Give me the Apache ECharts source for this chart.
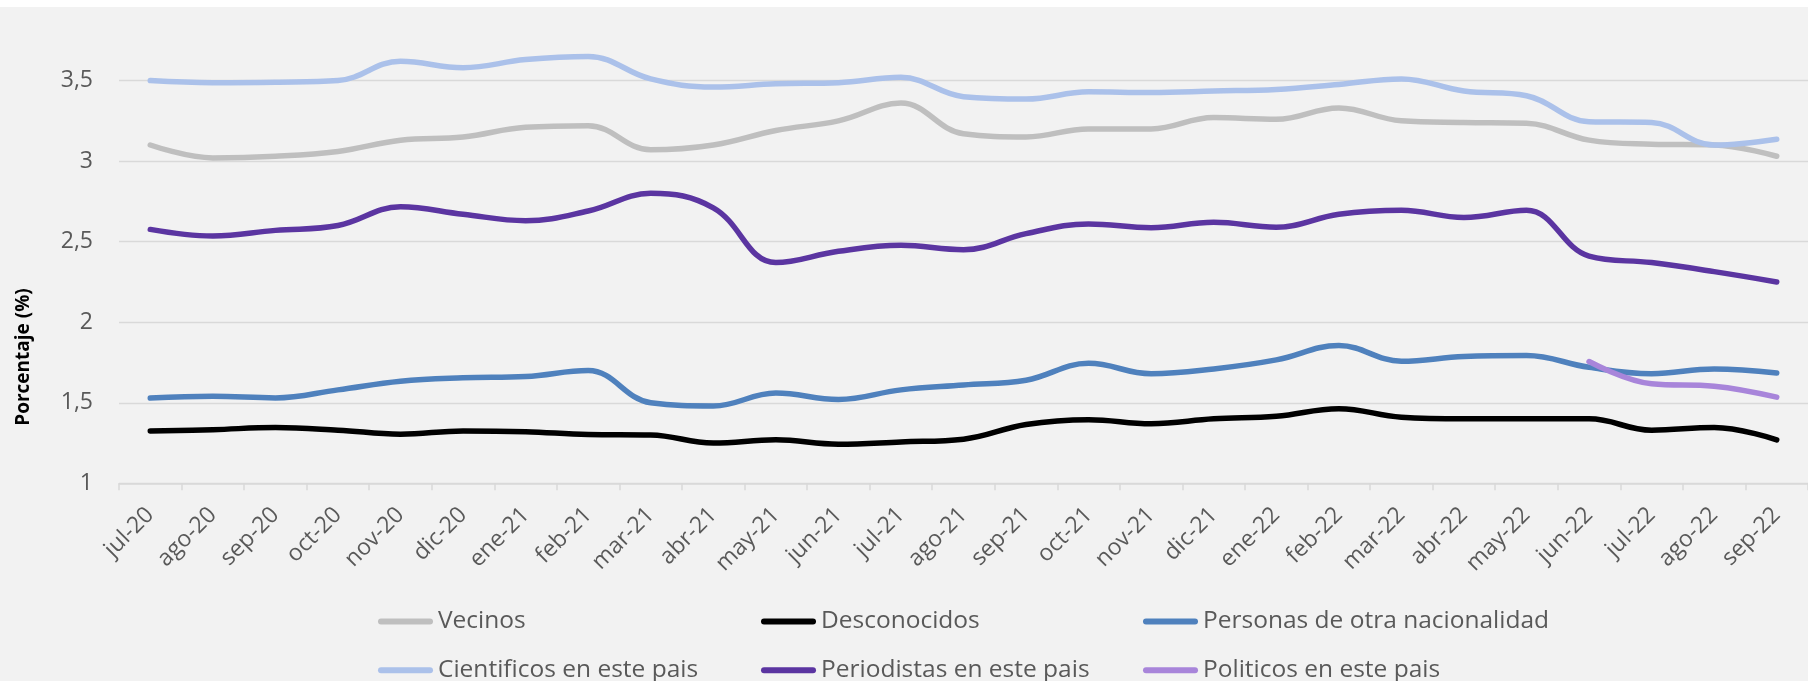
<!DOCTYPE html>
<html>
<head>
<meta charset="utf-8">
<script src="https://cdn.jsdelivr.net/npm/echarts@6/dist/echarts.min.js"></script>
<style>
html,body{margin:0;padding:0;background:#fff;}
#chart{width:1808px;height:681px;}
</style>
</head>
<body>
<div id="chart"></div>
<script>
// meses (eje x)
var months = ['jul-20','ago-20','sep-20','oct-20','nov-20','dic-20','ene-21','feb-21','mar-21','abr-21','may-21','jun-21','jul-21','ago-21','sep-21','oct-21','nov-21','dic-21','ene-22','feb-22','mar-22','abr-22','may-22','jun-22','jul-22','ago-22','sep-22'];
// series
var vecinos = [3.10,3.02,3.03,3.06,3.13,3.15,3.21,3.22,3.07,3.10,3.19,3.25,3.36,3.17,3.15,3.20,3.20,3.27,3.26,3.33,3.25,3.24,3.235,3.13,3.105,3.10,3.03];
var desconocidos = [1.325,1.333,1.346,1.33,1.305,1.325,1.32,1.303,1.30,1.25,1.27,1.243,1.257,1.274,1.365,1.395,1.37,1.40,1.416,1.463,1.41,1.40,1.40,1.40,1.33,1.346,1.27];
var personas = [1.529,1.54,1.53,1.58,1.634,1.655,1.663,1.70,1.50,1.48,1.56,1.52,1.58,1.61,1.64,1.745,1.68,1.71,1.766,1.855,1.758,1.787,1.793,1.72,1.68,1.71,1.684];
var cientificos = [3.50,3.487,3.49,3.50,3.62,3.58,3.63,3.65,3.51,3.46,3.48,3.487,3.52,3.40,3.385,3.43,3.426,3.435,3.445,3.476,3.51,3.435,3.406,3.245,3.24,3.10,3.136];
var periodistas = [2.576,2.535,2.57,2.60,2.716,2.67,2.63,2.69,2.80,2.71,2.37,2.44,2.477,2.45,2.55,2.61,2.586,2.62,2.59,2.67,2.695,2.65,2.695,2.41,2.37,2.314,2.25];
var politicos = [null,null,null,null,null,null,null,null,null,null,null,null,null,null,null,null,null,null,null,null,null,null,null,1.756,1.618,1.603,1.535];

var FONT = '"Open Sans", "Noto Sans", sans-serif';
var capsule = 'path://M3,0 H52 A3,3 0 0 1 52,6 H3 A3,3 0 0 1 3,0 Z';

function mkSeries(name, data, color){
	return {
		name: name, type: 'line', data: data, smooth: 0.4,
		showSymbol: false, symbol: 'none', connectNulls: false,
		lineStyle: {color: color, width: 5.5, cap: 'round', join: 'round'},
		itemStyle: {color: color}
	};
}
// una leyenda por columna (dos filas)
function mkLegend(left, names){
	return {
		orient: 'vertical', left: left, top: 609, height: 120, itemGap: 23.7, padding: 0,
		itemWidth: 55, itemHeight: 6, icon: capsule,
		textStyle: {color: '#595959', fontSize: 24.5, fontFamily: FONT, lineHeight: 24},
		data: names
	};
}

var chart = echarts.init(document.getElementById('chart'));
chart.setOption({
	backgroundColor: '#f2f2f2',
	animation: false,
	grid: {left: 119, right: -7.5, top: -2.2, bottom: 197.7, containLabel: false},
	legend: [
		mkLegend(378, ['Vecinos', 'Cientificos en este pais']),
		mkLegend(761, ['Desconocidos', 'Periodistas en este pais']),
		mkLegend(1143, ['Personas de otra nacionalidad', 'Politicos en este pais'])
	],
	xAxis: {
		type: 'category', data: months, boundaryGap: true,
		axisLine: {lineStyle: {color: '#d9d9d9', width: 1.5}},
		axisTick: {show: true, length: 7, lineStyle: {color: '#d9d9d9', width: 1.5}},
		axisLabel: {rotate: 45, interval: 0, margin: 28, color: '#595959', fontSize: 23, fontFamily: FONT}
	},
	yAxis: {
		type: 'value', min: 1, max: 4, interval: 0.5,
		axisLine: {show: false}, axisTick: {show: false},
		splitLine: {lineStyle: {color: '#d9d9d9', width: 1.3}},
		axisLabel: {margin: 26, color: '#595959', fontSize: 23, fontFamily: FONT,
			formatter: function(v){ return v >= 4 ? '' : String(v).replace('.', ','); }}
	},
	graphic: [
		{type: 'rect', left: 0, top: 0, z: 100, shape: {width: 1808, height: 7}, style: {fill: '#ffffff'}},
		{type: 'text', x: 24, y: 357, rotation: Math.PI / 2, z: 100,
			style: {text: 'Porcentaje (%)', fill: '#000', font: 'bold 19px ' + FONT, align: 'center', verticalAlign: 'middle'}}
	],
	series: [
		mkSeries('Vecinos', vecinos, '#bfbfbf'),
		mkSeries('Desconocidos', desconocidos, '#000000'),
		mkSeries('Personas de otra nacionalidad', personas, '#4f81bd'),
		mkSeries('Cientificos en este pais', cientificos, '#abc1ea'),
		mkSeries('Periodistas en este pais', periodistas, '#5b35a1'),
		mkSeries('Politicos en este pais', politicos, '#a885da')
	]
});
</script>
</body>
</html>
